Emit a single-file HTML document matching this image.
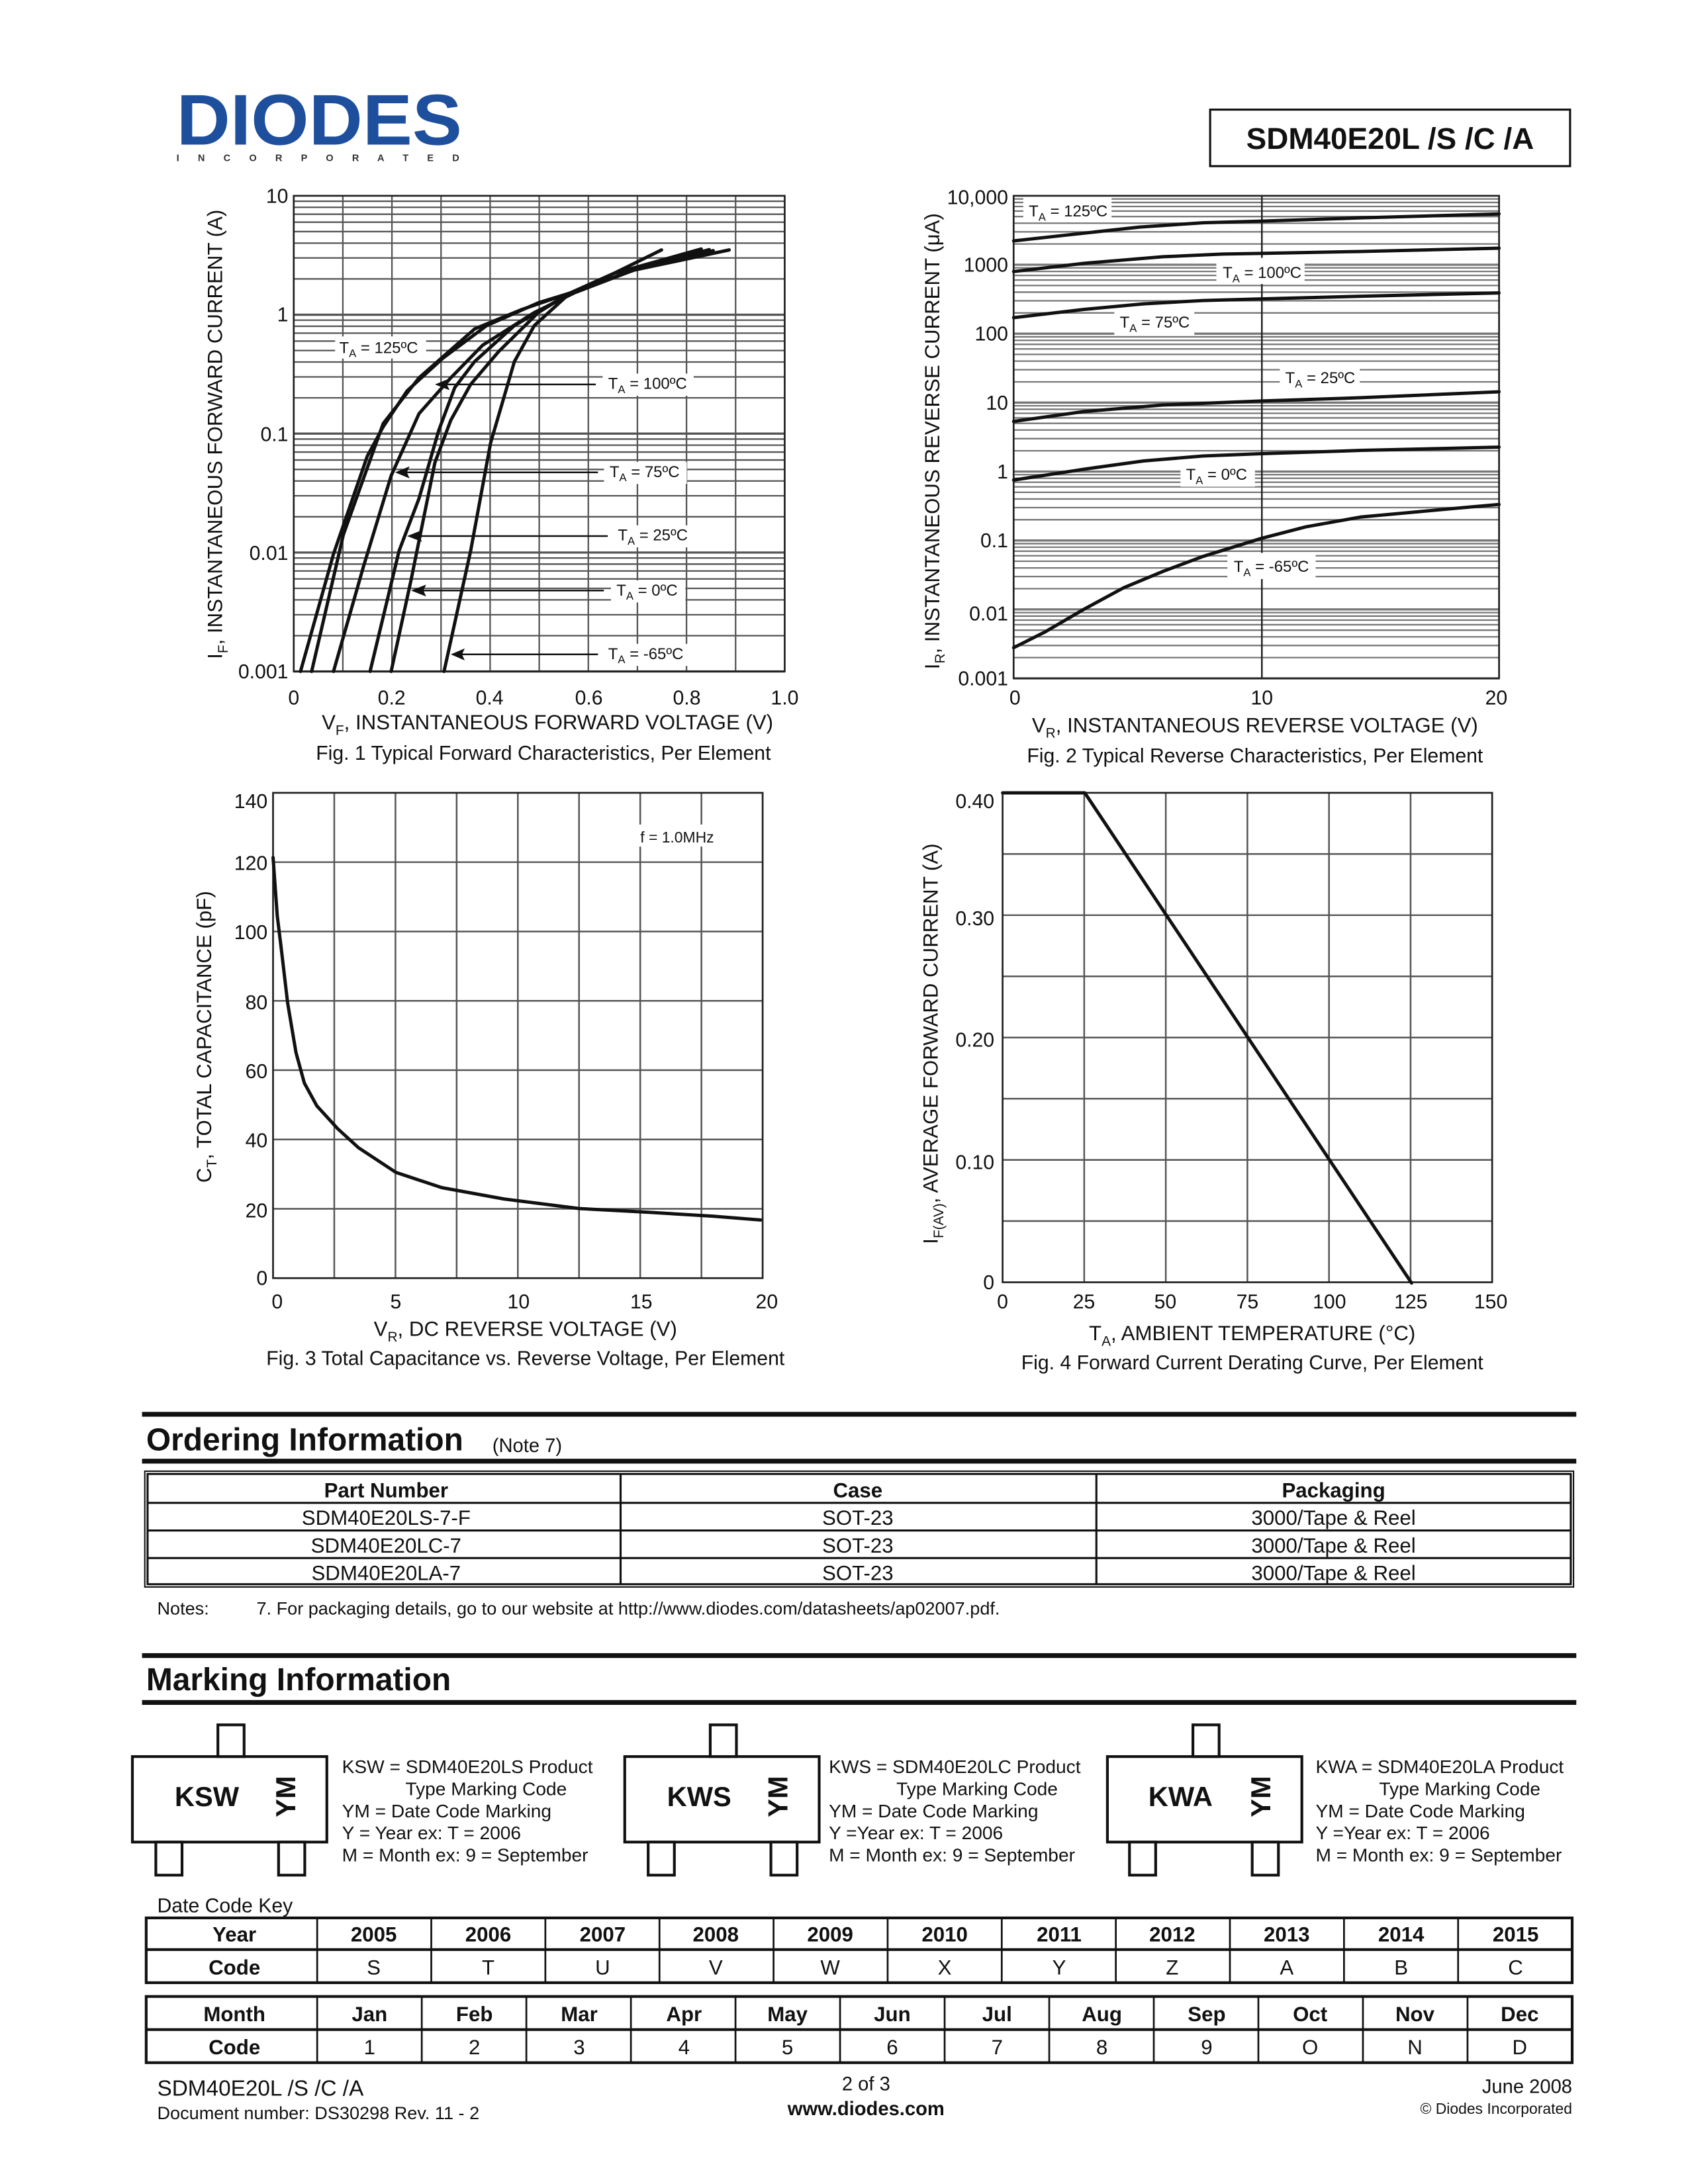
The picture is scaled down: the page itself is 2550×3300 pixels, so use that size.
<!DOCTYPE html>
<html><head><meta charset="utf-8"><style>
html,body{margin:0;padding:0;background:#fff}
svg{display:block}
text{font-family:"Liberation Sans","Noto Sans CJK SC",sans-serif;fill:#111}
.g{stroke:#555;stroke-width:1.3;fill:none}
.c{stroke:#111;stroke-width:5;fill:none;vector-effect:non-scaling-stroke;stroke-linejoin:round;stroke-linecap:round}
.t{font-size:11.5px}
.tk{font-size:14.5px}
.ax{font-size:15px}
.cap{font-size:14.5px}
</style></head><body>
<svg width="2550" height="3300" viewBox="0 0 1224 1584" xmlns="http://www.w3.org/2000/svg">
<rect width="1224" height="1584" fill="#fff"/>
<!-- Header -->
<text x="128" y="105" font-size="52" font-weight="bold" textLength="207" lengthAdjust="spacingAndGlyphs" style="fill:#1d4f9c">DIODES</text>
<text x="128" y="117" font-size="7" font-weight="bold" textLength="205" lengthAdjust="spacing" style="fill:#333">I N C O R P O R A T E D</text>
<rect x="877.5" y="79.5" width="261" height="41" fill="none" stroke="#111" stroke-width="1.5"/>
<text x="1008" y="108" font-size="22" font-weight="bold" text-anchor="middle">SDM40E20L /S /C /A</text>

<!-- Fig 1 -->
<g id="f1grid" class="g"></g>
<rect x="213" y="142" width="356" height="345" fill="none" stroke="#222" stroke-width="1.3"/>
<g transform="translate(142.37,127.33) scale(0.2883,0.2366)">
<polyline class="c" points="262,1520 345,1160 430,860 470,770 530,660 620,560 730,460 860,390 940,360 1050,300 1170,228"/>
<polyline class="c" points="290,1520 370,1100 470,760 560,620 700,470 820,410 940,360 1050,300 1270,225"/>
<polyline class="c" points="345,1520 420,1200 490,920 560,730 640,620 720,520 850,420 950,360 1100,290 1290,227"/>
<polyline class="c" points="437,1520 510,1150 560,990 610,780 650,650 700,570 800,460 940,360 1100,290 1300,230"/>
<polyline class="c" points="490,1520 540,1240 600,880 640,750 690,640 760,540 860,420 940,360 1100,290 1340,228"/>
<polyline class="c" points="623,1520 690,1150 740,820 800,570 850,460 940,360 1100,290 1340,228"/>
</g>
<g class="t">
<rect x="243" y="244" width="66" height="16" fill="#fff"/>
<text x="246" y="256">T<tspan font-size="8" dy="3">A</tspan><tspan dy="-3"> = 125ºC</tspan></text>
<rect x="437" y="271" width="66" height="16" fill="#fff"/>
<text x="441" y="282">T<tspan font-size="8" dy="3">A</tspan><tspan dy="-3"> = 100ºC</tspan></text>
<rect x="438" y="335" width="60" height="16" fill="#fff"/>
<text x="442" y="346">T<tspan font-size="8" dy="3">A</tspan><tspan dy="-3"> = 75ºC</tspan></text>
<rect x="444" y="381" width="60" height="16" fill="#fff"/>
<text x="448" y="392">T<tspan font-size="8" dy="3">A</tspan><tspan dy="-3"> = 25ºC</tspan></text>
<rect x="443" y="421" width="54" height="16" fill="#fff"/>
<text x="447" y="432">T<tspan font-size="8" dy="3">A</tspan><tspan dy="-3"> = 0ºC</tspan></text>
<rect x="437" y="467" width="64" height="16" fill="#fff"/>
<text x="441" y="478">T<tspan font-size="8" dy="3">A</tspan><tspan dy="-3"> = -65ºC</tspan></text>
</g>
<g stroke="#111" stroke-width="1.2">
<line x1="432" y1="278.8" x2="318" y2="278.8"/><line x1="433.6" y1="342.6" x2="289" y2="342.6"/>
<line x1="440.7" y1="388.8" x2="298" y2="388.8"/><line x1="437.9" y1="428.3" x2="301" y2="428.3"/>
<line x1="433.6" y1="474.6" x2="330" y2="474.6"/>
</g>
<g fill="#111">
<polygon points="315.4,278.8 326,274.5 324,278.8 326,283"/>
<polygon points="286.5,342.6 297,338.3 295,342.6 297,347"/>
<polygon points="295.2,388.8 306,384.5 304,388.8 306,393"/>
<polygon points="298,428.3 309,424 307,428.3 309,432.6"/>
<polygon points="326.9,474.6 337,470.3 335,474.6 337,479"/>
</g>
<g class="tk" text-anchor="end">
<text x="209" y="147">10</text><text x="209" y="233">1</text><text x="209" y="320">0.1</text><text x="209" y="406">0.01</text><text x="209" y="492">0.001</text>
</g>
<g class="tk" text-anchor="middle">
<text x="213" y="511">0</text><text x="284" y="511">0.2</text><text x="355" y="511">0.4</text><text x="427" y="511">0.6</text><text x="498" y="511">0.8</text><text x="569" y="511">1.0</text>
</g>
<text class="ax" x="397" y="529" text-anchor="middle">V<tspan font-size="10" dy="4">F</tspan><tspan dy="-4">, INSTANTANEOUS FORWARD VOLTAGE (V)</tspan></text>
<text class="cap" x="394" y="551" text-anchor="middle">Fig. 1  Typical Forward Characteristics, Per Element</text>
<text class="ax" transform="translate(161,315) rotate(-90)" text-anchor="middle">I<tspan font-size="10" dy="4">F</tspan><tspan dy="-4">, INSTANTANEOUS FORWARD CURRENT (A)</tspan></text>

<!-- Fig 2 -->
<g id="f2grid" class="g"></g>
<rect x="735" y="142" width="352" height="350" fill="none" stroke="#222" stroke-width="1.3"/>
<line x1="915" y1="142" x2="915" y2="492" stroke="#222" stroke-width="1.2"/>
<g class="t">
<rect x="742" y="143" width="64" height="17" fill="#fff"/>
<text x="746" y="157">T<tspan font-size="8" dy="3">A</tspan><tspan dy="-3"> = 125ºC</tspan></text>
<rect x="882" y="187" width="64" height="19" fill="#fff"/>
<text x="886.6" y="201.7">T<tspan font-size="8" dy="3">A</tspan><tspan dy="-3"> = 100ºC</tspan></text>
<rect x="808" y="224" width="58" height="19" fill="#fff"/>
<text x="812" y="237.6">T<tspan font-size="8" dy="3">A</tspan><tspan dy="-3"> = 75ºC</tspan></text>
<rect x="928" y="264" width="58" height="19" fill="#fff"/>
<text x="932" y="278">T<tspan font-size="8" dy="3">A</tspan><tspan dy="-3"> = 25ºC</tspan></text>
<rect x="856" y="334" width="54" height="19" fill="#fff"/>
<text x="860" y="348">T<tspan font-size="8" dy="3">A</tspan><tspan dy="-3"> = 0ºC</tspan></text>
<rect x="890" y="401" width="64" height="19" fill="#fff"/>
<text x="894.6" y="414.8">T<tspan font-size="8" dy="3">A</tspan><tspan dy="-3"> = -65ºC</tspan></text>
</g>
<g transform="translate(642.55,126.47) scale(0.2871,0.2389)">
<polyline class="c" points="322,202 450,185 640,160 800,147 948,142 1200,132 1548,120"/>
<polyline class="c" points="322,295 500,270 700,250 850,242 948,240 1200,234 1548,224"/>
<polyline class="c" points="322,435 500,410 650,393 800,383 948,378 1200,370 1548,360"/>
<polyline class="c" points="322,750 500,720 700,700 948,688 1200,678 1548,660"/>
<polyline class="c" points="322,928 500,895 650,870 800,855 948,848 1200,838 1548,828"/>
<polyline class="c" points="322,1437 400,1390 500,1320 600,1255 700,1205 800,1160 948,1105 1060,1070 1200,1040 1400,1018 1548,1002"/>
</g>
<g class="tk" text-anchor="end">
<text x="731" y="148">10,000</text><text x="731" y="197">1000</text><text x="731" y="247">100</text><text x="731" y="297">10</text><text x="731" y="347">1</text><text x="731" y="397">0.1</text><text x="731" y="450">0.01</text><text x="731" y="497">0.001</text>
</g>
<g class="tk" text-anchor="middle"><text x="736" y="511">0</text><text x="915" y="511">10</text><text x="1085" y="511">20</text></g>
<text class="ax" x="910" y="531" text-anchor="middle">V<tspan font-size="10" dy="4">R</tspan><tspan dy="-4">, INSTANTANEOUS REVERSE VOLTAGE (V)</tspan></text>
<text class="cap" x="910" y="553" text-anchor="middle">Fig. 2 Typical Reverse Characteristics, Per Element</text>
<text class="ax" transform="translate(681,320) rotate(-90)" text-anchor="middle">I<tspan font-size="10" dy="4">R</tspan><tspan dy="-4">, INSTANTANEOUS REVERSE CURRENT (μA)</tspan></text>

<!-- Fig 3 -->
<g id="f3grid" class="g"></g>
<rect x="198" y="575" width="355" height="352" fill="none" stroke="#222" stroke-width="1.3"/>
<rect x="458" y="598" width="66" height="16" fill="#fff"/>
<text x="491" y="611" font-size="11" text-anchor="middle">f = 1.0MHz</text>
<g transform="translate(124,556.5) scale(0.3021,0.2759)">
<polyline class="c" points="245,237 255,390 265,480 280,620 300,750 320,830 350,890 400,950 450,1000 540,1065 650,1105 800,1135 980,1160 1150,1170 1300,1180 1415,1190"/>
</g>
<g class="tk" text-anchor="end">
<text x="194" y="586">140</text><text x="194" y="631">120</text><text x="194" y="681">100</text><text x="194" y="732">80</text><text x="194" y="782">60</text><text x="194" y="832">40</text><text x="194" y="883">20</text><text x="194" y="932">0</text>
</g>
<g class="tk" text-anchor="middle"><text x="201" y="949">0</text><text x="287" y="949">5</text><text x="376" y="949">10</text><text x="465" y="949">15</text><text x="556" y="949">20</text></g>
<text class="ax" x="381" y="969" text-anchor="middle">V<tspan font-size="10" dy="4">R</tspan><tspan dy="-4">, DC REVERSE VOLTAGE (V)</tspan></text>
<text class="cap" x="381" y="990" text-anchor="middle">Fig. 3 Total Capacitance vs. Reverse Voltage, Per Element</text>
<text class="ax" transform="translate(153,752) rotate(-90)" text-anchor="middle">C<tspan font-size="10" dy="4">T</tspan><tspan dy="-4">, TOTAL CAPACITANCE (pF)</tspan></text>

<!-- Fig 4 -->
<g id="f4grid" class="g"></g>
<rect x="727" y="575" width="355" height="355" fill="none" stroke="#222" stroke-width="1.3"/>
<g transform="translate(646.5,556.1) scale(0.2907,0.2784)">
<polyline class="c" points="277,68 482,68 1297,1345"/>
</g>
<g class="tk" text-anchor="end">
<text x="721" y="586">0.40</text><text x="721" y="671">0.30</text><text x="721" y="759">0.20</text><text x="721" y="848">0.10</text><text x="721" y="935">0</text>
</g>
<g class="tk" text-anchor="middle"><text x="727" y="949">0</text><text x="786" y="949">25</text><text x="845" y="949">50</text><text x="904.5" y="949">75</text><text x="964" y="949">100</text><text x="1023" y="949">125</text><text x="1081" y="949">150</text></g>
<text class="ax" x="908" y="972" text-anchor="middle">T<tspan font-size="10" dy="4">A</tspan><tspan dy="-4">, AMBIENT TEMPERATURE (°C)</tspan></text>
<text class="cap" x="908" y="993" text-anchor="middle">Fig. 4  Forward Current Derating Curve, Per Element</text>
<text class="ax" transform="translate(680,757) rotate(-90)" text-anchor="middle">I<tspan font-size="10" dy="4">F(AV)</tspan><tspan dy="-4">, AVERAGE FORWARD CURRENT (A)</tspan></text>

<!-- Ordering -->
<rect x="103" y="1024" width="1040" height="3.5" fill="#111"/>
<text x="106" y="1052" font-size="23" font-weight="bold">Ordering Information</text>
<text x="357" y="1053" font-size="14">(Note 7)</text>
<rect x="103" y="1058" width="1040" height="3.5" fill="#111"/>
<rect x="105" y="1067" width="1036" height="84" fill="none" stroke="#111" stroke-width="1"/>
<rect x="107" y="1069" width="1032" height="80" fill="none" stroke="#111" stroke-width="1.5"/>
<g stroke="#111" stroke-width="1.5">
<line x1="107" y1="1090" x2="1139" y2="1090"/><line x1="107" y1="1110" x2="1139" y2="1110"/><line x1="107" y1="1130" x2="1139" y2="1130"/>
<line x1="450" y1="1069" x2="450" y2="1149"/><line x1="795" y1="1069" x2="795" y2="1149"/>
</g>
<g font-size="15" text-anchor="middle">
<text x="280" y="1086" font-weight="bold">Part Number</text><text x="622" y="1086" font-weight="bold">Case</text><text x="967" y="1086" font-weight="bold">Packaging</text>
<text x="280" y="1106">SDM40E20LS-7-F</text><text x="622" y="1106">SOT-23</text><text x="967" y="1106">3000/Tape &amp; Reel</text>
<text x="280" y="1126">SDM40E20LC-7</text><text x="622" y="1126">SOT-23</text><text x="967" y="1126">3000/Tape &amp; Reel</text>
<text x="280" y="1146">SDM40E20LA-7</text><text x="622" y="1146">SOT-23</text><text x="967" y="1146">3000/Tape &amp; Reel</text>
</g>
<text x="114" y="1171" font-size="13">Notes:</text>
<text x="186" y="1171" font-size="13">7. For packaging details, go to our website at http://www.diodes.com/datasheets/ap02007.pdf.</text>

<!-- Marking -->
<rect x="103" y="1199" width="1040" height="3.5" fill="#111"/>
<text x="106" y="1226" font-size="23" font-weight="bold">Marking Information</text>
<rect x="103" y="1233" width="1040" height="3.5" fill="#111"/>
<g fill="#fff" stroke="#111" stroke-width="2">
<rect x="96" y="1274" width="141" height="62"/><rect x="158" y="1251" width="19" height="23"/><rect x="113" y="1336" width="19" height="24"/><rect x="202" y="1336" width="19" height="24"/>
<rect x="453" y="1274" width="141" height="62"/><rect x="515" y="1251" width="19" height="23"/><rect x="470" y="1336" width="19" height="24"/><rect x="559" y="1336" width="19" height="24"/>
<rect x="803" y="1274" width="141" height="62"/><rect x="865" y="1251" width="19" height="23"/><rect x="819" y="1336" width="19" height="24"/><rect x="908" y="1336" width="19" height="24"/>
</g>
<g font-size="20" font-weight="bold" text-anchor="middle">
<text x="150" y="1310">KSW</text><text x="507" y="1310">KWS</text><text x="856" y="1310">KWA</text>
<text transform="translate(214,1303) rotate(-90)">YM</text>
<text transform="translate(571,1303) rotate(-90)">YM</text>
<text transform="translate(921,1303) rotate(-90)">YM</text>
</g>
<g font-size="13.5">
<text x="248" y="1286">KSW = SDM40E20LS Product</text><text x="294" y="1302">Type Marking Code</text><text x="248" y="1318">YM = Date Code Marking</text><text x="248" y="1334">Y = Year ex: T = 2006</text><text x="248" y="1350">M = Month ex: 9 = September</text>
<text x="601" y="1286">KWS = SDM40E20LC Product</text><text x="650" y="1302">Type Marking Code</text><text x="601" y="1318">YM = Date Code Marking</text><text x="601" y="1334">Y =Year ex: T = 2006</text><text x="601" y="1350">M = Month ex: 9 = September</text>
<text x="954" y="1286">KWA = SDM40E20LA Product</text><text x="1000" y="1302">Type Marking Code</text><text x="954" y="1318">YM = Date Code Marking</text><text x="954" y="1334">Y =Year ex: T = 2006</text><text x="954" y="1350">M = Month ex: 9 = September</text>
</g>
<text x="114" y="1387" font-size="14.5">Date Code Key</text>
<g id="tbl" stroke="#111" stroke-width="1.3" fill="none">
<rect x="106" y="1391" width="1034" height="47" stroke-width="2"/>
<line x1="106" y1="1414" x2="1140" y2="1414" stroke-width="2"/>
<rect x="106" y="1448" width="1034" height="48" stroke-width="2"/>
<line x1="106" y1="1472" x2="1140" y2="1472" stroke-width="2"/>
</g>
<g font-size="15" text-anchor="middle">
<text x="170" y="1408" font-weight="bold">Year</text><text x="170" y="1432" font-weight="bold">Code</text>
<text x="170" y="1466" font-weight="bold">Month</text><text x="170" y="1490" font-weight="bold">Code</text>
</g>
<g id="yr" font-size="15" text-anchor="middle"></g>

<!-- Footer -->
<text x="114" y="1520" font-size="16">SDM40E20L /S /C /A</text>
<text x="114" y="1537" font-size="13">Document number: DS30298 Rev. 11 - 2</text>
<text x="628" y="1516" font-size="14" text-anchor="middle">2 of 3</text>
<text x="628" y="1534" font-size="14" font-weight="bold" text-anchor="middle">www.diodes.com</text>
<text x="1140" y="1518" font-size="14" text-anchor="end">June 2008</text>
<text x="1140" y="1533" font-size="11" text-anchor="end">© Diodes Incorporated</text>

<g font-size="15" text-anchor="middle">
<text x="271" y="1408" font-weight="bold">2005</text><text x="354" y="1408" font-weight="bold">2006</text><text x="437" y="1408" font-weight="bold">2007</text><text x="519" y="1408" font-weight="bold">2008</text><text x="602" y="1408" font-weight="bold">2009</text><text x="685" y="1408" font-weight="bold">2010</text><text x="768" y="1408" font-weight="bold">2011</text><text x="850" y="1408" font-weight="bold">2012</text><text x="933" y="1408" font-weight="bold">2013</text><text x="1016" y="1408" font-weight="bold">2014</text><text x="1099" y="1408" font-weight="bold">2015</text>
<text x="271" y="1432">S</text><text x="354" y="1432">T</text><text x="437" y="1432">U</text><text x="519" y="1432">V</text><text x="602" y="1432">W</text><text x="685" y="1432">X</text><text x="768" y="1432">Y</text><text x="850" y="1432">Z</text><text x="933" y="1432">A</text><text x="1016" y="1432">B</text><text x="1099" y="1432">C</text>
<text x="268" y="1466" font-weight="bold">Jan</text><text x="344" y="1466" font-weight="bold">Feb</text><text x="420" y="1466" font-weight="bold">Mar</text><text x="496" y="1466" font-weight="bold">Apr</text><text x="571" y="1466" font-weight="bold">May</text><text x="647" y="1466" font-weight="bold">Jun</text><text x="723" y="1466" font-weight="bold">Jul</text><text x="799" y="1466" font-weight="bold">Aug</text><text x="875" y="1466" font-weight="bold">Sep</text><text x="950" y="1466" font-weight="bold">Oct</text><text x="1026" y="1466" font-weight="bold">Nov</text><text x="1102" y="1466" font-weight="bold">Dec</text>
<text x="268" y="1490">1</text><text x="344" y="1490">2</text><text x="420" y="1490">3</text><text x="496" y="1490">4</text><text x="571" y="1490">5</text><text x="647" y="1490">6</text><text x="723" y="1490">7</text><text x="799" y="1490">8</text><text x="875" y="1490">9</text><text x="950" y="1490">O</text><text x="1026" y="1490">N</text><text x="1102" y="1490">D</text>
</g>
</svg>
<script>
(function(){
var NS="http://www.w3.org/2000/svg";
function L(g,x1,y1,x2,y2,w,c){var l=document.createElementNS(NS,"line");l.setAttribute("x1",x1);l.setAttribute("y1",y1);l.setAttribute("x2",x2);l.setAttribute("y2",y2);if(w)l.setAttribute("stroke-width",w);if(c)l.setAttribute("stroke",c);g.appendChild(l);}
var g1=document.getElementById("f1grid");
for(var d=0;d<4;d++){var yb=487-d*86.25;for(var m=1;m<=9;m++){var y=yb-Math.log10(m)*86.25;L(g1,213,y,569,y,m==1?1.6:1.1);}}
for(var i=1;i<10;i++){var x=213+i*35.6;L(g1,x,142,x,487,1.1);}
var g2=document.getElementById("f2grid");
for(var d=0;d<7;d++){var yb=492-d*50;for(var m=1;m<=9;m++){var y=yb-Math.log10(m)*50;L(g2,735,y,1087,y,m==1?1.6:1.1,"#777");}}
var g3=document.getElementById("f3grid");
for(var i=1;i<8;i++){var x=198+i*44.375;L(g3,x,575,x,927,1.2);}
for(var i=1;i<7;i++){var y=575+i*50.29;L(g3,198,y,553,y,1.2);}
var g4=document.getElementById("f4grid");
for(var i=1;i<6;i++){var x=727+i*59.17;L(g4,x,575,x,930,1.2);}
for(var i=1;i<8;i++){var y=575+i*44.375;L(g4,727,y,1082,y,1.2);}
var t=document.getElementById("tbl");
for(var i=0;i<11;i++){var x=230+i*82.73;L(t,x,1391,x,1438);}
for(var i=0;i<12;i++){var x=230+i*75.83;L(t,x,1448,x,1496);}
})();
</script>
</body></html>
